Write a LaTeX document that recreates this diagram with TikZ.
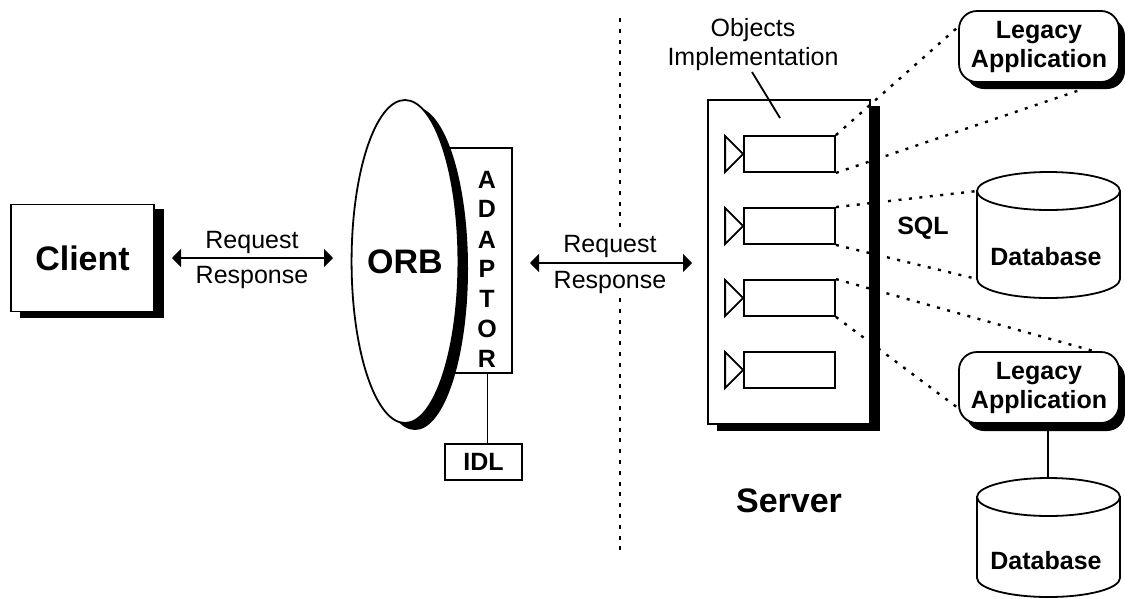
\documentclass[tikz,border=0pt]{standalone}
\usepackage{fontspec}
\setmainfont{Liberation Sans}
\usetikzlibrary{arrows.meta,shapes.geometric}
\newcommand{\lowered}[1]{\raisebox{-1.5pt}{#1}}
\tikzset{
  x=1pt,y=-1pt,
  lw/.style={line width=1.8pt},
  plainbox/.style={draw,lw,fill=white,rectangle,inner sep=0pt,anchor=center},
  objrect/.style={plainbox,minimum width=91pt,minimum height=36pt},
  sha/.style={fill=black,draw=none},
  lbl/.style={font=\fontsize{25}{28}\selectfont,inner sep=0pt,anchor=center},
  blbl/.style={font=\fontsize{25}{28}\selectfont\bfseries,inner sep=0pt,anchor=center},
  big/.style={font=\fontsize{34}{38}\selectfont\bfseries,inner sep=0pt,anchor=center},
  legacybox/.style={draw,lw,fill=white,rounded corners=18pt,rectangle,inner sep=0pt,minimum width=160pt,minimum height=71pt,align=center,font=\fontsize{25}{29}\selectfont\bfseries},
  legacysh/.style={sha,rounded corners=18pt},
  dots/.style={line width=2.4pt,dash pattern=on 3pt off 7.5pt},
  sep/.style={line width=2.4pt,dash pattern=on 4pt off 6.8pt},
  dbl/.style={lw,{Triangle[length=9pt,width=18pt]}-{Triangle[length=9pt,width=18pt]}},
  dbbody/.style={draw,lw,fill=white},
}
\begin{document}
\begin{tikzpicture}
\useasboundingbox (0,0) rectangle (1125,598);
% separator
\coordinate (sepT) at (620,18);
\coordinate (sepM) at (620,228);
\coordinate (sepN) at (620,298);
\coordinate (sepB) at (620,550);
\draw[sep] (sepT) -- (sepM);
\draw[sep] (sepN) -- (sepB);
% client
\fill[sha] (20,209) rectangle (164,318);
\node[plainbox,minimum width=143pt,minimum height=107pt,font=\fontsize{34}{38}\selectfont\bfseries] (client) at (82.5,258) {Client};
% client arrow
\coordinate (a1L) at (172,258);
\coordinate (a1R) at (333,258);
\draw[dbl] (a1L) -- (a1R);
\node[lbl] (req1) at (252,242.5) {Request};
\node[lbl] (res1) at (252,277.5) {Response};
% adaptor
\node[plainbox,minimum width=72pt,minimum height=225pt] (adaptor) at (476,260.5) {};
\node[blbl] (la1) at (487,180) {A};
\node[blbl] (la2) at (487,209) {D};
\node[blbl] (la3) at (487,240) {A};
\node[blbl] (la4) at (487,269) {P};
\node[blbl] (la5) at (487,299) {T};
\node[blbl] (la6) at (487,329) {O};
\node[blbl] (la7) at (487,359) {R};
% ORB
\fill[sha] (415,268.5) ellipse [x radius=53,y radius=161.5];
\node[draw,lw,fill=white,ellipse,inner sep=0pt,minimum width=106pt,minimum height=323pt,font=\fontsize{34}{38}\selectfont\bfseries] (orb) at (405,261.5) {ORB};
% IDL
\node[plainbox,minimum width=77pt,minimum height=36pt,font=\fontsize{25}{28}\selectfont\bfseries] (idl) at (483.5,462) {IDL};
\coordinate (adB) at (487.5,373);
\coordinate (idlT) at (487.5,444);
\draw[lw] (adB) -- (idlT);
% second arrow
\coordinate (a2L) at (530,263);
\coordinate (a2R) at (692,263);
\draw[dbl] (a2L) -- (a2R);
\node[lbl] (req2) at (610,246.5) {Request};
\node[lbl] (res2) at (610,282.5) {Response};
% server
\fill[sha] (717,106) rectangle (880,431);
\node[plainbox,minimum width=162pt,minimum height=324pt] (server) at (789,262) {};
\foreach \n/\yy in {r1/154,r2/226,r3/298,r4/370}{
  \node[objrect] (\n) at (789.5,\yy) {};
  \draw[lw] (\n.west) -- ++(-18,-18) -- ++(0,36) -- cycle;
}
% labels
\node[lbl] (objs) at (753,30) {Objects};
\node[lbl] (impl) at (753,59) {Implementation};
\coordinate (impA) at (752,72);
\coordinate (impB) at (780,118);
\draw[lw] (impA) -- (impB);
\node[blbl] (sql) at (923,228) {SQL};
\node[big] (srv) at (789,501) {Server};
% dotted connectors
\coordinate (l1a) at (958,27);
\coordinate (l1b) at (1083,89);
\coordinate (d1a) at (977,191);
\coordinate (d1b) at (977,279);
\coordinate (l2a) at (1097,352);
\coordinate (l2b) at (958,408);
\draw[dots] (r1.north east) -- (l1a);
\draw[dots] (r1.south east) -- (l1b);
\draw[dots] (r2.north east) -- (d1a);
\draw[dots] (r2.south east) -- (d1b);
\draw[dots] (r3.north east) -- (l2a);
\draw[dots] (r3.south east) -- (l2b);
% server shadow bar above connectors, with the small clearing beside it
\fill[white] (880,100) rectangle (884,300);
\fill[sha] (870,106) rectangle (880,431);
% legacy 1
\fill[legacysh] (966,18) rectangle (1125,89);
\node[legacybox] (leg1) at (1039,46.5) {\lowered{Legacy}\\\lowered{Application}};
% db 1
\draw[dbbody] (977,191) -- (977,279) arc[start angle=180,end angle=360,x radius=71.5,y radius=-19] -- (1120,191) -- cycle;
\node[dbbody,ellipse,inner sep=0pt,minimum width=143pt,minimum height=38pt] (db1) at (1048.5,191) {};
\node[blbl] (db1t) at (1046,257) {Database};
% legacy 2
\fill[legacysh] (966,360) rectangle (1125,431);
\node[legacybox] (leg2) at (1039,387.5) {\lowered{Legacy}\\\lowered{Application}};
% db 2
\draw[dbbody] (977,497) -- (977,578) arc[start angle=180,end angle=360,x radius=71.5,y radius=-19] -- (1120,497) -- cycle;
\node[dbbody,ellipse,inner sep=0pt,minimum width=143pt,minimum height=38pt] (db2) at (1048.5,497) {};
\node[blbl] (db2t) at (1046,561) {Database};
\coordinate (legB) at (1048,431);
\draw[lw] (legB) -- (db2.north -| legB);
\end{tikzpicture}
\end{document}
